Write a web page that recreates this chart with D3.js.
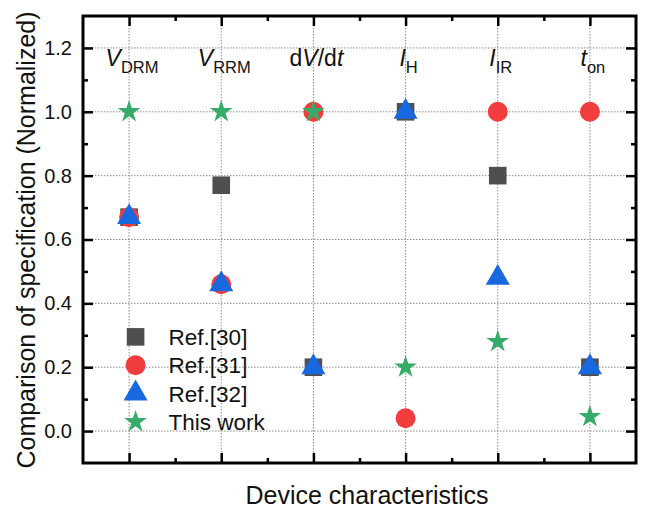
<!DOCTYPE html>
<html>
<head>
<meta charset="utf-8">
<script src="https://cdn.jsdelivr.net/npm/d3@7"></script>
<style>
  body { margin: 0; background: #fff; }
  svg { font-family: Arial, 'Liberation Sans', sans-serif; }
  .grid line { stroke: #8c8c8c; stroke-width: 1; stroke-dasharray: 1.5, 1.5; }
  .axis path { display: none; }
  .axis line { stroke: #000; stroke-width: 2.5; }
  .axis text { font-size: 20px; fill: #111; }
</style>
</head>
<body>
<div id="chart"></div>
<script>
// category labels (main text + subscript)
var categories = ['VDRM', 'VRRM', 'dV/dt', 'IH', 'IIR', 'ton'];
var categoryLabels = [
  [{ t: 'V', it: true }, { t: 'DRM', sub: true }],
  [{ t: 'V', it: true }, { t: 'RRM', sub: true }],
  [{ t: 'd' }, { t: 'V', it: true }, { t: '/d' }, { t: 't', it: true }],
  [{ t: 'I', it: true }, { t: 'H', sub: true }],
  [{ t: 'I', it: true }, { t: 'IR', sub: true }],
  [{ t: 't', it: true }, { t: 'on', sub: true }]
];
var yTicks = [0, 0.2, 0.4, 0.6, 0.8, 1.0, 1.2];

var ref30 = [0.67, 0.77, 0.20, 1.00, 0.80, 0.20];
var ref31 = [0.67, 0.46, 1.00, 0.04, 1.00, 1.00];
var ref32 = [0.67, 0.46, 0.20, 1.00, 0.48, 0.20];
var thisWork = [1.00, 1.00, 1.00, 0.20, 0.28, 0.045];

var seriesNames = ['Ref.[30]', 'Ref.[31]', 'Ref.[32]', 'This work'];

var series = [
  { name: seriesNames[0], values: ref30, symbol: d3.symbolSquare, size: 310, color: '#4f4f4f' },
  { name: seriesNames[1], values: ref31, symbol: d3.symbolCircle, size: 314, color: '#f23d3f' },
  { name: seriesNames[2], values: ref32, symbol: d3.symbolTriangle, size: 250, color: '#1868e0' },
  { name: seriesNames[3], values: thisWork, symbol: d3.symbolStar, size: 158, color: '#37ab69' }
];

var svgWidth = 646;
var svgHeight = 509;
var margin = { left: 83, right: 10, top: 16, bottom: 46 };
var width = svgWidth - margin.left - margin.right;
var height = svgHeight - margin.top - margin.bottom;

var svg = d3.select('#chart').append('svg')
  .attr('width', svgWidth)
  .attr('height', svgHeight);
var g = svg.append('g')
  .attr('transform', 'translate(' + margin.left + ', ' + margin.top + ')');

var xScale = d3.scaleLinear()
  .range([0, width])
  .domain([0.5, categories.length + 0.5]);
var yScale = d3.scaleLinear()
  .range([height, 0])
  .domain([-0.1, 1.3]);

var xIdx = d3.range(1, categories.length + 1);
var xMinor = d3.range(1.5, categories.length, 1);
var yMinor = [0.1, 0.3, 0.5, 0.7, 0.9, 1.1];

// grid
g.append('g').attr('class', 'grid')
  .selectAll('line').data(xIdx).enter().append('line')
  .attr('x1', xScale).attr('x2', xScale)
  .attr('y1', 0).attr('y2', height);
g.append('g').attr('class', 'grid')
  .selectAll('line').data(yTicks).enter().append('line')
  .attr('y1', yScale).attr('y2', yScale)
  .attr('x1', 0).attr('x2', width);

// axes with inward ticks
var major = 10, minor = 5;

g.append('g').attr('class', 'axis')
  .call(d3.axisLeft(yScale).tickValues(yTicks).tickSize(-major).tickPadding(11)
    .tickFormat(d3.format('.1f')));
g.append('g').attr('class', 'axis')
  .call(d3.axisLeft(yScale).tickValues(yMinor).tickSize(-minor).tickFormat(''));
g.append('g').attr('class', 'axis')
  .attr('transform', 'translate(' + width + ', 0)')
  .call(d3.axisRight(yScale).tickValues(yTicks).tickSize(-major).tickFormat(''));
g.append('g').attr('class', 'axis')
  .attr('transform', 'translate(' + width + ', 0)')
  .call(d3.axisRight(yScale).tickValues(yMinor).tickSize(-minor).tickFormat(''));
g.append('g').attr('class', 'axis')
  .attr('transform', 'translate(0, ' + height + ')')
  .call(d3.axisBottom(xScale).tickValues(xIdx).tickSize(-major).tickFormat(''));
g.append('g').attr('class', 'axis')
  .attr('transform', 'translate(0, ' + height + ')')
  .call(d3.axisBottom(xScale).tickValues(xMinor).tickSize(-minor).tickFormat(''));
g.append('g').attr('class', 'axis')
  .call(d3.axisTop(xScale).tickValues(xIdx).tickSize(-major).tickFormat(''));
g.append('g').attr('class', 'axis')
  .call(d3.axisTop(xScale).tickValues(xMinor).tickSize(-minor).tickFormat(''));

// frame
g.append('rect')
  .attr('width', width).attr('height', height)
  .attr('fill', 'none').attr('stroke', '#000').attr('stroke-width', 3);

// category labels inside the plot
var lab = g.append('g').selectAll('text').data(categoryLabels).enter().append('text')
  .attr('x', function (d, i) { return xScale(i + 1) + 3; })
  .attr('y', yScale(1.142))
  .attr('text-anchor', 'middle')
  .attr('font-size', 23)
  .attr('fill', '#111');
lab.each(function (parts) {
  var t = d3.select(this);
  parts.forEach(function (p) {
    var s = t.append('tspan').text(p.t);
    if (p.it) s.attr('font-style', 'italic');
    if (p.sub) s.attr('font-size', 16.5).attr('dy', 6.5);
  });
});

// points
series.forEach(function (s) {
  g.append('g').selectAll('path').data(s.values).enter().append('path')
    .attr('d', d3.symbol().type(s.symbol).size(s.size))
    .attr('fill', s.color)
    .attr('transform', function (d, i) {
      return 'translate(' + xScale(i + 1) + ',' + yScale(d) + ')';
    });
});

// legend
var legend = g.append('g')
  .attr('transform', 'translate(' + (xScale(1) + 6.5) + ',' + (yScale(0.295)) + ')');
var rows = legend.selectAll('g').data(series).enter().append('g')
  .attr('transform', function (d, i) { return 'translate(0,' + (i * 28.3) + ')'; });
rows.append('path')
  .attr('d', function (d) { return d3.symbol().type(d.symbol).size(d.size)(); })
  .attr('fill', function (d) { return d.color; });
rows.append('text')
  .attr('x', 33).attr('y', 8.3)
  .attr('font-size', 22.5)
  .attr('fill', '#111')
  .text(function (d) { return d.name; });

// axis titles
svg.append('text')
  .attr('x', 367).attr('y', 504)
  .attr('text-anchor', 'middle')
  .attr('font-size', 25)
  .attr('fill', '#111')
  .text('Device characteristics');
svg.append('text')
  .attr('transform', 'translate(35, 240) rotate(-90)')
  .attr('text-anchor', 'middle')
  .attr('font-size', 25)
  .attr('fill', '#111')
  .text('Comparison of specification (Normalized)');
</script>
</body>
</html>
